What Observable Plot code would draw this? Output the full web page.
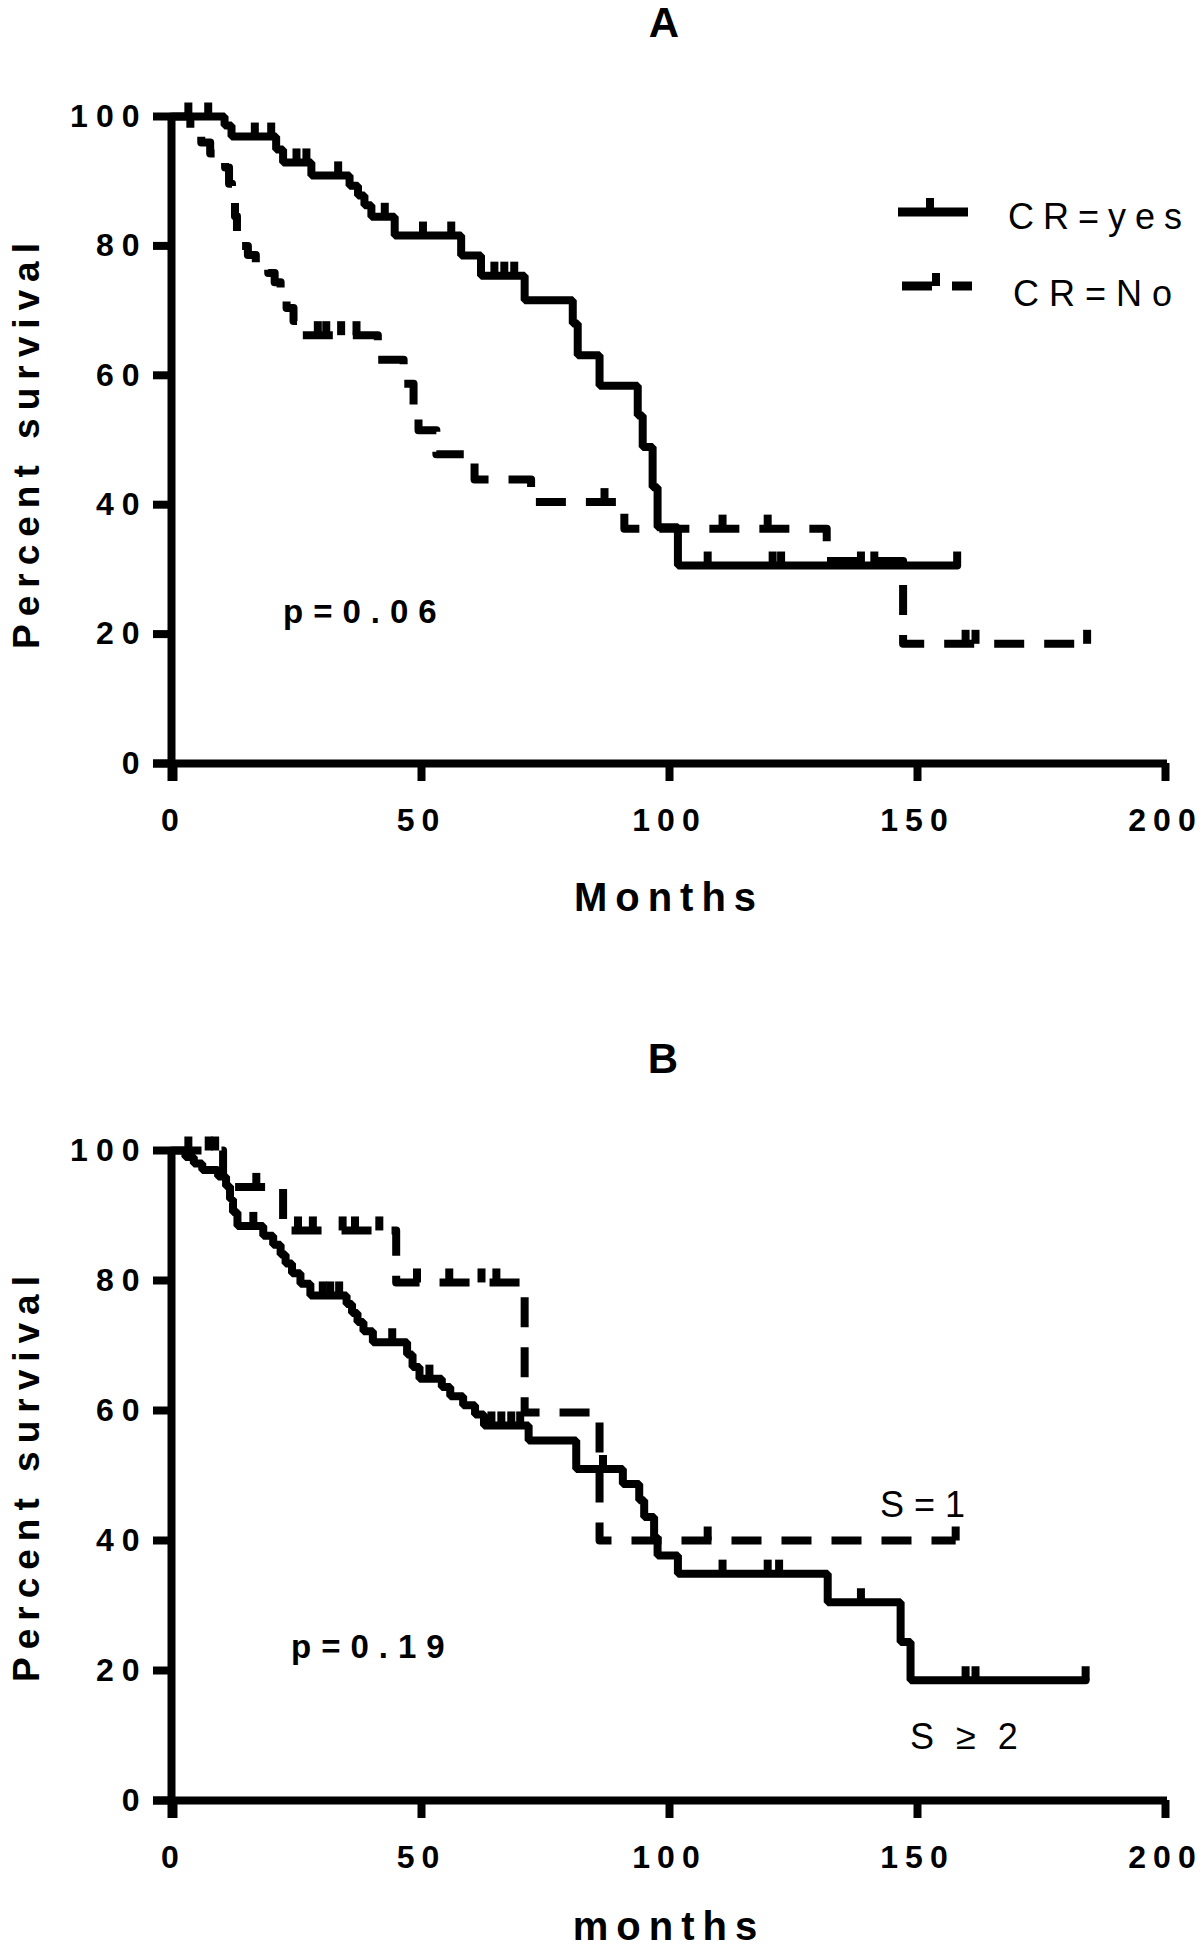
<!DOCTYPE html>
<html><head><meta charset="utf-8">
<script src="https://cdn.jsdelivr.net/npm/d3@7"></script>
<script src="https://cdn.jsdelivr.net/npm/@observablehq/plot@0.6"></script>
<style>
body{margin:0;background:#fff;}
#wrap{position:relative;width:1202px;height:1950px;background:#fff;font-family:"Liberation Sans",Arial,sans-serif;}
.panel{position:absolute;left:0;}
#overlay{position:absolute;left:0;top:0;}
.panel [aria-label="y-axis tick label"] text{letter-spacing:8px;}
.panel [aria-label="x-axis tick label"] text{letter-spacing:7px;}
</style></head><body><div id="wrap"></div>
<script>
// ---------- data ----------
const xTicks = [0, 50, 100, 150, 200];
const yTicks = [0, 20, 40, 60, 80, 100];

// Panel A: CR = yes (solid)
const crYesTime = [0, 10.7, 12.1, 21.1, 22.5, 28.2, 35.9, 37.6, 38.9, 40.3, 45.0, 58.4, 62.4, 71.2, 80.9, 81.9, 86.3, 94.0, 95.0, 97.0, 98.0, 102.1, 158.4];
const crYesSurv = [100, 98.6, 96.9, 94.9, 92.9, 90.9, 89.3, 87.8, 86.3, 84.5, 81.6, 78.5, 75.4, 71.6, 68.0, 63.1, 58.4, 53.8, 48.9, 42.7, 36.5, 30.6, 30.6];
const crYesCensor = [3.4, 7.4, 16.8, 20.1, 25.2, 27.2, 33.6, 43.0, 50.7, 56.4, 65.1, 67.1, 69.1, 108.1, 121.2, 122.9, 139.0, 141.7, 158.4];

// Panel A: CR = No (dashed)
const crNoTime = [0, 3.8, 6.0, 7.8, 10.8, 11.6, 12.2, 12.8, 13.2, 13.8, 15.4, 17.0, 19.5, 20.8, 22.0, 23.2, 24.6, 25.5, 41.6, 46.8, 48.8, 49.8, 53.4, 61.1, 72.5, 91.3, 132.1, 147.5, 184.6];
const crNoSurv = [100, 97.4, 96.0, 94.3, 92.1, 89.6, 87.1, 84.6, 82.1, 80.0, 78.6, 77.2, 75.8, 74.4, 72.1, 70.4, 68.4, 66.2, 62.4, 58.7, 55.0, 51.5, 47.8, 43.9, 40.4, 36.3, 31.3, 18.5, 18.5];
const crNoCensor = [29.5, 31.2, 34.2, 37.3, 87.3, 111.1, 120.2, 160.1, 162.1, 184.6];

// Panel B: S = 1 (dashed)
const s1Time = [0, 10.4, 22.5, 45.3, 71.2, 86.3, 158.1];
const s1Surv = [100, 94.4, 87.7, 79.7, 59.7, 40.0, 40.0];
const s1Censor = [3.4, 7.5, 8.8, 17.1, 25.5, 28.5, 34.5, 37.0, 41.9, 49.5, 56.0, 62.5, 65.5, 108.1, 158.1];

// Panel B: S >= 2 (solid)
const s2Time = [0, 2.8, 4.5, 6.2, 9.4, 11.0, 11.8, 12.4, 13.3, 18.5, 20.5, 22.0, 23.0, 24.3, 26.0, 28.0, 35.3, 36.4, 37.5, 38.7, 40.6, 47.5, 48.6, 50.0, 54.5, 56.2, 58.8, 61.2, 63.0, 72.0, 81.6, 91.0, 94.3, 95.3, 97.3, 98.0, 102.1, 132.3, 147.0, 149.0, 184.3];
const s2Surv = [100, 99.0, 98.0, 97.0, 96.0, 94.5, 92.5, 90.5, 88.4, 86.9, 85.5, 84.0, 82.6, 81.1, 79.5, 77.7, 76.4, 75.0, 73.6, 72.2, 70.5, 68.6, 66.7, 64.9, 63.6, 62.2, 60.8, 59.4, 57.7, 55.4, 51.0, 48.7, 46.2, 43.6, 40.5, 37.7, 34.9, 30.5, 24.4, 18.5, 18.5];
const s2Censor = [16.5, 30.5, 32.0, 33.8, 44.5, 52.0, 64.5, 66.5, 68.5, 70.3, 87.0, 111.1, 120.2, 122.5, 139.0, 160.1, 162.1, 184.3];

// ---------- helpers ----------
const FONT = '"Liberation Sans", Arial, sans-serif';
const steps = (T, S) => T.map((t, i) => ({t, s: S[i]}));
function levelAt(T, S, t) { let v = S[0]; for (let i = 0; i < T.length; i++) if (T[i] <= t) v = S[i]; return v; }
const censors = (C, T, S) => C.map(t => ({t, s: levelAt(T, S, t)}));
const censorSym = {draw(ctx) { ctx.moveTo(-4, 0); ctx.lineTo(-4, -14); ctx.lineTo(4, -14); ctx.lineTo(4, 0); ctx.closePath(); }};

function panel(solidT, solidS, solidC, dashT, dashS, dashC, mt, mb) {
  return Plot.plot({
    width: 1202, height: 975,
    marginLeft: 171, marginRight: 39, marginTop: mt, marginBottom: mb,
    x: {domain: [0, 200]}, y: {domain: [0, 100]},
    style: {fontFamily: FONT, background: "transparent", overflow: "visible", color: "black"},
    marks: [
      Plot.axisX({ticks: xTicks, tickSize: 18, tickPadding: 27, strokeWidth: 8, fontSize: 32, fontWeight: "bold", label: null, dx: 2}),
      Plot.axisY({ticks: yTicks, tickSize: 18, tickPadding: 6, strokeWidth: 8, fontSize: 32, fontWeight: "bold", label: null}),
      Plot.ruleX([0], {strokeWidth: 8, insetBottom: -18}),
      Plot.ruleY([0], {strokeWidth: 8, insetLeft: -18, insetRight: -4}),
      Plot.line(steps(dashT, dashS), {x: "t", y: "s", curve: "step-after", stroke: "black", strokeWidth: 8, strokeDasharray: "30,20", strokeLinecap: "butt"}),
      Plot.line(steps(solidT, solidS), {x: "t", y: "s", curve: "step-after", stroke: "black", strokeWidth: 8, strokeLinejoin: "miter"}),
      Plot.dot(censors(solidC, solidT, solidS), {x: "t", y: "s", symbol: censorSym, fill: "black", stroke: "none"}),
      Plot.dot(censors(dashC, dashT, dashS), {x: "t", y: "s", symbol: censorSym, fill: "black", stroke: "none"})
    ]
  });
}

const wrap = document.getElementById("wrap");
const pA = panel(crYesTime, crYesSurv, crYesCensor, crNoTime, crNoSurv, crNoCensor, 116, 212);
pA.classList.add("panel"); pA.style.top = "0px";
wrap.appendChild(pA);
const pB = panel(s2Time, s2Surv, s2Censor, s1Time, s1Surv, s1Censor, 175, 150);
pB.classList.add("panel"); pB.style.top = "975px";
wrap.appendChild(pB);

// ---------- annotations ----------
const ov = d3.select(wrap).append("svg").attr("id", "overlay").attr("width", 1202).attr("height", 1950)
  .style("font-family", FONT).style("pointer-events", "none");
function txt(x, y, s, o = {}) {
  const t = ov.append("text").attr("x", x).attr("y", y).text(s)
    .attr("font-size", o.size || 32).attr("font-weight", o.weight || "bold")
    .attr("text-anchor", o.anchor || "start").attr("fill", "black");
  if (o.ls) t.style("letter-spacing", o.ls + "px");
  if (o.ws) t.style("word-spacing", o.ws + "px");
  if (o.rot) t.attr("transform", `rotate(-90 ${x} ${y})`);
  return t;
}
txt(664, 37, "A", {size: 42, anchor: "middle"});
txt(663, 1073, "B", {size: 42, anchor: "middle"});
txt(39, 442, "Percent survival", {size: 37, anchor: "middle", ls: 8, rot: true});
txt(39, 1475, "Percent survival", {size: 37, anchor: "middle", ls: 8, rot: true});
txt(669, 911, "Months", {size: 40, anchor: "middle", ls: 8});
txt(669, 1940, "months", {size: 40, anchor: "middle", ls: 8});
txt(283, 623, "p=0.06", {size: 33, ls: 10});
txt(291, 1658, "p=0.19", {size: 33, ls: 10});
txt(1008, 229, "CR=yes", {size: 36, weight: "normal", ls: 9});
txt(1013, 306, "CR=No", {size: 36, weight: "normal", ls: 10});
txt(880, 1517, "S = 1", {size: 36, weight: "normal"});
txt(910, 1749, "S \u2265 2", {size: 36, weight: "normal", ws: 12});
// legend swatches
ov.append("line").attr("x1", 898).attr("x2", 968).attr("y1", 212).attr("y2", 212).attr("stroke", "black").attr("stroke-width", 9);
ov.append("rect").attr("x", 926).attr("y", 198).attr("width", 8).attr("height", 14).attr("fill", "black");
ov.append("line").attr("x1", 902).attr("x2", 972).attr("y1", 286).attr("y2", 286).attr("stroke", "black").attr("stroke-width", 9).attr("stroke-dasharray", "30,20");
ov.append("rect").attr("x", 932).attr("y", 273).attr("width", 8).attr("height", 13).attr("fill", "black");
</script></body></html>
